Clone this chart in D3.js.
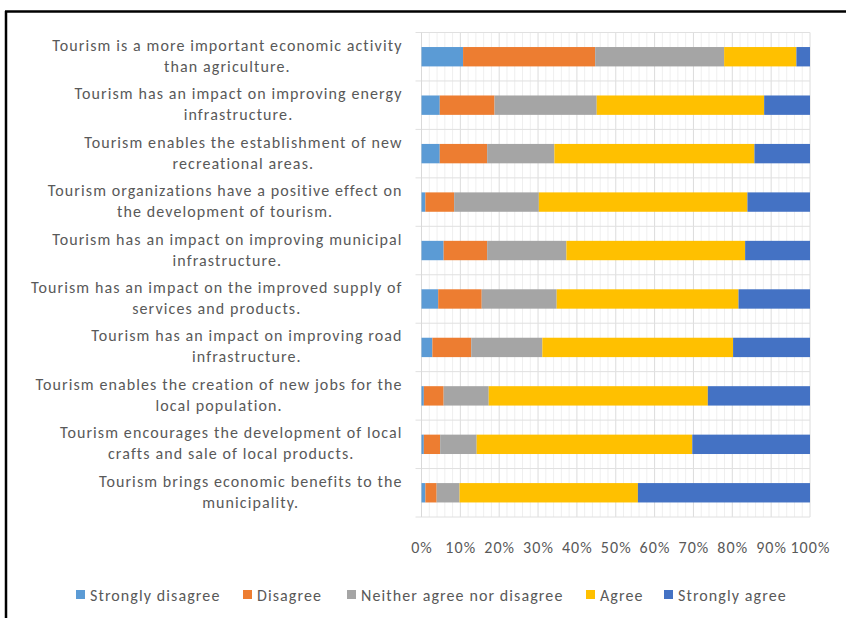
<!DOCTYPE html>
<html>
<head>
<meta charset="utf-8">
<script src="https://cdn.jsdelivr.net/npm/d3@7"></script>
<style>
  body { margin: 0; background: #fff; }
  svg { display: block; }
  text { font-family: Carlito, Lato, "Open Sans", sans-serif; fill: #595959; font-size: 16px; letter-spacing: 1.1px; }
</style>
</head>
<body>
<svg id="chart" width="846" height="618"></svg>
<script>
// statements, top to bottom, each split into its two wrapped lines
var categories = [
  ["Tourism is a more important economic activity", "than agriculture."],
  ["Tourism has an impact on improving energy", "infrastructure."],
  ["Tourism enables the establishment of new", "recreational areas."],
  ["Tourism organizations have a positive effect on", "the development of tourism."],
  ["Tourism has an impact on improving municipal", "infrastructure."],
  ["Tourism has an impact on the improved supply of", "services and products."],
  ["Tourism has an impact on improving road", "infrastructure."],
  ["Tourism enables the creation of new jobs for the", "local population."],
  ["Tourism encourages the development of local", "crafts and sale of local products."],
  ["Tourism brings economic benefits to the", "municipality."]
];

var seriesNames = ["Strongly disagree", "Disagree", "Neither agree nor disagree", "Agree", "Strongly agree"];
var seriesColors = ["#5b9bd5", "#ed7d31", "#a5a5a5", "#ffc000", "#4472c4"];

// shares in %, one value per statement (same order as categories)
var stronglyDisagree = [10.7, 4.7, 4.7, 1.0, 5.7, 4.3, 2.8, 0.6, 0.6, 1.0];
var disagree         = [34.0, 14.1, 12.2, 7.4, 11.2, 11.2, 10.0, 5.1, 4.2, 2.9];
var neither          = [33.2, 26.3, 17.3, 21.8, 20.4, 19.3, 18.3, 11.6, 9.4, 5.9];
var agree            = [18.6, 43.1, 51.5, 53.7, 46.0, 46.8, 49.1, 56.4, 55.5, 45.9];
var stronglyAgree    = [3.5, 11.8, 14.3, 16.1, 16.7, 18.4, 19.8, 26.3, 30.3, 44.3];

var tickValues = [0, 10, 20, 30, 40, 50, 60, 70, 80, 90, 100];

var svg = d3.select("#chart");

// outer frame (only top and left edges show in the picture)
svg.append("line").attr("x1", 5).attr("x2", 846).attr("y1", 11.5).attr("y2", 11.5)
  .attr("stroke", "#000").attr("stroke-width", 2.5);
svg.append("line").attr("x1", 6).attr("x2", 6).attr("y1", 11).attr("y2", 618)
  .attr("stroke", "#000").attr("stroke-width", 2.5);

var margin = {left: 421.5, right: 36, top: 32.5, bottom: 101};
var plotW = 846 - margin.left - margin.right;
var plotH = 618 - margin.top - margin.bottom;

var rows = categories.map(function (c, i) {
  return {
    idx: i,
    "Strongly disagree": stronglyDisagree[i],
    "Disagree": disagree[i],
    "Neither agree nor disagree": neither[i],
    "Agree": agree[i],
    "Strongly agree": stronglyAgree[i]
  };
});

// normalise each row to 100%
rows.forEach(function (r) {
  var tot = d3.sum(seriesNames, function (s) { return r[s]; });
  seriesNames.forEach(function (s) { r[s] = r[s] / tot * 100; });
});

var stack = d3.stack().keys(seriesNames);
var layers = stack(rows);

var x = d3.scaleLinear().domain([0, 100]).range([0, plotW]);
var y = d3.scaleBand().domain(d3.range(categories.length)).range([0, plotH]).paddingInner(0).paddingOuter(0);
var barH = y.bandwidth() * 0.4;

var g = svg.append("g").attr("transform", "translate(" + margin.left + "," + margin.top + ")");

// minor grid every 2%
g.append("g").selectAll("line")
  .data(d3.range(0, 101, 2).filter(function (v) { return v % 10 !== 0; }))
  .join("line")
    .attr("x1", function (d) { return x(d); })
    .attr("x2", function (d) { return x(d); })
    .attr("y1", 0).attr("y2", plotH)
    .attr("stroke", "#efefef").attr("stroke-width", 1);

// major grid every 10%
g.append("g").selectAll("line")
  .data(tickValues)
  .join("line")
    .attr("x1", function (d) { return x(d); })
    .attr("x2", function (d) { return x(d); })
    .attr("y1", 0).attr("y2", plotH)
    .attr("stroke", "#dcdcdc").attr("stroke-width", 1);

// horizontal separators between categories, with ticks sticking out left
g.append("g").selectAll("line")
  .data(d3.range(categories.length + 1))
  .join("line")
    .attr("x1", -6)
    .attr("x2", plotW)
    .attr("y1", function (d) { return d * y.step(); })
    .attr("y2", function (d) { return d * y.step(); })
    .attr("stroke", "#e0e0e0").attr("stroke-width", 1);

// y axis line
g.append("line").attr("x1", 0).attr("x2", 0).attr("y1", 0).attr("y2", plotH)
  .attr("stroke", "#d9d9d9");

// stacked bars
g.append("g").selectAll("g")
  .data(layers)
  .join("g")
    .attr("fill", function (d, i) { return seriesColors[i]; })
  .selectAll("rect")
  .data(function (d) { return d; })
  .join("rect")
    .attr("x", function (d) { return x(d[0]); })
    .attr("width", function (d) { return x(d[1]) - x(d[0]); })
    .attr("y", function (d) { return y(d.data.idx) + (y.bandwidth() - barH) / 2; })
    .attr("height", barH);

// x tick labels
g.append("g").selectAll("text")
  .data(tickValues)
  .join("text")
    .attr("x", function (d) { return x(d) + 0.5; })
    .attr("y", plotH + 36)
    .attr("text-anchor", "middle")
    .text(function (d) { return d + "%"; });

// category labels: two centred lines, block right-aligned against the axis
var labelRight = -19;
categories.forEach(function (lines, i) {
  var cy = y(i) + y.bandwidth() / 2;
  var t = g.append("g");
  var texts = lines.map(function (ln, k) {
    return t.append("text")
      .attr("y", cy + (k === 0 ? -6 : 15))
      .attr("text-anchor", "middle")
      .text(ln);
  });
  var maxW = d3.max(texts, function (tx) { return tx.node().getComputedTextLength(); });
  texts.forEach(function (tx) { tx.attr("x", labelRight - maxW / 2); });
});

// legend
var legendX = [76, 243, 347, 586, 664];
var legend = svg.append("g").attr("transform", "translate(0,595)");
seriesNames.forEach(function (s, i) {
  legend.append("rect")
    .attr("x", legendX[i]).attr("y", -5)
    .attr("width", 9).attr("height", 9)
    .attr("fill", seriesColors[i]);
  legend.append("text")
    .attr("x", legendX[i] + 14).attr("y", 5.5)
    .text(s);
});
</script>
</body>
</html>
